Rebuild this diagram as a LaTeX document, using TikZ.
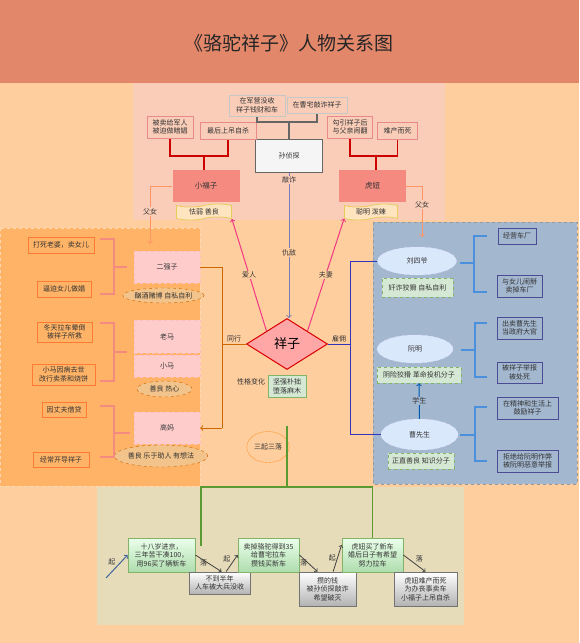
\documentclass[tikz,border=0pt]{standalone}
\usepackage{fontspec}
\setmainfont{Noto Sans CJK SC}
\usetikzlibrary{shapes.geometric,shapes.symbols}

\definecolor{fondo}{HTML}{FFCE9E}
\definecolor{banda}{HTML}{E2876A}
\definecolor{panelsup}{HTML}{FACDB9}
\definecolor{panelizq}{HTML}{FFB366}
\definecolor{panelder}{HTML}{A3B7CF}
\definecolor{panelinf}{HTML}{E6DCBA}
\definecolor{texto}{HTML}{333333}
\definecolor{rojizo}{HTML}{E88A8A}
\definecolor{salmon}{HTML}{F48A80}
\definecolor{naranja}{HTML}{CC6600}
\definecolor{azul}{HTML}{3333BB}
\definecolor{celeste}{HTML}{4A90DD}
\definecolor{verde}{HTML}{5A9A30}
\definecolor{tostado}{HTML}{F2C38A}
\definecolor{azulclaro}{HTML}{DAE8FC}
\definecolor{verdeclaro}{HTML}{D5E8D4}
\definecolor{verdeborde}{HTML}{82B366}
\definecolor{crema}{HTML}{FFE4C0}

\tikzstyle{caja} = [rectangle, draw=rojizo, fill=panelsup, text=texto, line width=1pt, font=\fontsize{7}{8.5}\selectfont, align=center, inner sep=1pt]
\tikzstyle{cajagris} = [caja, draw=black!22, fill=panelsup]
\tikzstyle{persona} = [rectangle, fill=salmon, text=texto, font=\fontsize{7.5}{9}\selectfont, minimum width=67pt, minimum height=32pt]
\tikzstyle{cinta} = [tape, draw=yellow!50!brown!80, fill=crema, text=texto, line width=0.8pt, tape bend height=3pt, font=\fontsize{7}{8.5}\selectfont, inner sep=0pt]
\tikzstyle{cajaizq} = [caja, draw=orange!70!red!80, fill=panelizq]
\tikzstyle{nombreizq} = [rectangle, draw=red!25, dashed, fill=red!20, text=texto, font=\fontsize{7}{8.5}\selectfont, minimum width=66pt]
\tikzstyle{rasgo} = [ellipse, draw=orange!80!black, dashed, fill=tostado, text=texto, font=\fontsize{7}{8.5}\selectfont, inner sep=0pt]
\tikzstyle{nombreder} = [ellipse, draw=white!70!blue!40, dashed, fill=azulclaro, text=texto, font=\fontsize{7}{8.5}\selectfont, inner sep=0pt]
\tikzstyle{rasgoverde} = [rectangle, draw=verdeborde, dashed, fill=verdeclaro, text=texto, font=\fontsize{7}{8.5}\selectfont, inner sep=0pt]
\tikzstyle{cajader} = [caja, draw=blue!40!black!70, fill=panelder]
\tikzstyle{etapa} = [rectangle, draw=verdeborde, top color=green!8!white, bottom color=green!40!gray!45!white, text=texto, line width=0.8pt, font=\fontsize{7}{8.5}\selectfont, align=center, inner sep=0pt]
\tikzstyle{caida} = [etapa, draw=black!55, top color=white, bottom color=black!30]
\tikzstyle{etiqueta} = [text=texto, font=\fontsize{7}{8.5}\selectfont, inner sep=1pt]

\begin{document}
\begin{tikzpicture}[x=1pt,y=-1pt]
		\useasboundingbox (0,0) rectangle (579,643);
		% Fondos
		\fill[fondo] (0,0) rectangle (579,643);
		\fill[banda] (0,0) rectangle (579,83);
		\fill[panelsup] (133,83) rectangle (445,220);
		\filldraw[fill=panelizq, draw=orange!30, dashed] (0,228) rectangle (200,486);
		\filldraw[fill=panelder, draw=black!40, dashed] (373,222) rectangle (577,484);
		\fill[panelinf] (97,487) rectangle (464,625);
		\node[font=\fontsize{19}{19}\selectfont, text=black!85] (titulo) at (289,43) {《骆驼祥子》人物关系图};
		% Arriba
		\node[cajagris, minimum width=56pt, minimum height=21pt] (junying) at (257,105.5) {在军营没收\\祥子钱财和车};
		\node[cajagris, minimum width=60pt, minimum height=16pt] (caozhai) at (317,105) {在曹宅敲诈祥子};
		\node[caja, draw=black!60, fill=black!4, minimum width=67pt, minimum height=33pt] (sun) at (289,155.5) {孙侦探};
		\node[caja, minimum width=46pt, minimum height=22pt] (maijun) at (170,127) {被卖给军人\\被迫做暗娼};
		\node[caja, minimum width=56pt, minimum height=17pt] (diaosi) at (228,130.5) {最后上吊自杀};
		\node[caja, minimum width=45pt, minimum height=22pt] (gouyin) at (350,127) {勾引祥子后\\与父亲闹翻};
		\node[caja, minimum width=40pt, minimum height=17pt] (nanchan) at (397.5,130.5) {难产而死};
		\node[persona] (xiaofu) at (206,186) {小福子};
		\node[persona] (huniu) at (372.5,186) {虎妞};
		\node[cinta, minimum width=55pt, minimum height=16pt] (fucinta) at (204,212) {怯弱 善良};
		\node[cinta, minimum width=53pt, minimum height=16pt] (hucinta) at (371,212) {聪明 泼辣};
		\coordinate (sunjunta) at (289,122);
		\coordinate (fujunta) at (204,156);
		\coordinate (hujunta) at (376,156);
		\draw[black!60, line width=1.5pt] (junying.south) |- (sunjunta) -| (caozhai.south);
		\draw[black!60, line width=1.5pt] (sunjunta) -- (sunjunta |- sun.north);
		\draw[red!80!black, line width=1.5pt] (maijun.south) |- (fujunta) -| (diaosi.south);
		\draw[red!80!black, line width=1.5pt] (fujunta) -- (fujunta |- xiaofu.north);
		\draw[red!80!black, line width=1.5pt] (gouyin.south) |- (hujunta) -| (nanchan.south);
		\draw[red!80!black, line width=1.5pt] (hujunta) -- (hujunta |- huniu.north);
		% Centro
		\node[diamond, draw=red!85!black, fill=red!35!white, line width=1pt, aspect=1.6, inner sep=0pt, minimum width=81pt, minimum height=51pt, font=\fontsize{13}{13}\selectfont] (xiangzi) at (287,344) {祥子};
		\draw[->, line width=1pt, blue!30!gray!80!white] (sun.south) -- (sun.south |- xiangzi.north)
			node[etiqueta, pos=0.05, fill=panelsup] {敲诈}
			node[etiqueta, pos=0.55, fill=fondo] {仇敌};
		\draw[->, line width=1pt, magenta!70!red!80] (xiangzi.north west) -- (fucinta.south east)
			node[etiqueta, midway, fill=fondo] {爱人};
		\draw[->, line width=1pt, magenta!70!red!80] (xiangzi.north east) -- (hucinta.south west)
			node[etiqueta, midway, fill=fondo] {夫妻};
		\node[etiqueta] (xingge) at (251,382) {性格变化};
		\node[rasgoverde, solid, line width=0.8pt, align=center, minimum width=38pt, minimum height=22pt] (xingbox) at (287,386.5) {坚强朴拙\\堕落麻木};
		\node[ellipse, draw=orange!80, etiqueta, minimum width=39pt, minimum height=31pt] (sanqi) at (268,447) {三起三落};
		% Izquierda
		\node[cajaizq, minimum width=66pt, minimum height=16pt] (dasi) at (61,245) {打死老婆，卖女儿};
		\node[cajaizq, minimum width=54pt, minimum height=16pt] (bipo) at (64,289) {逼迫女儿做娼};
		\node[nombreizq, minimum height=32pt] (erqiang) at (167,267) {二强子};
		\node[rasgo, minimum width=67pt, minimum height=15pt] (erqrasgo) at (163.5,295.5) {酗酒赌博 自私自利};
		\node[cajaizq, minimum width=55pt, minimum height=20pt] (dongtian) at (64.5,332) {冬天拉车晕倒\\被祥子所救};
		\node[cajaizq, minimum width=63pt, minimum height=21pt] (xiaomasi) at (63.5,374.5) {小马因病去世\\改行卖茶和烧饼};
		\node[nombreizq, minimum height=33pt] (laoma) at (167,336.5) {老马};
		\node[nombreizq, minimum height=22pt] (xiaoma) at (167,366) {小马};
		\node[rasgo, minimum width=55pt, minimum height=16pt] (marasgo) at (164.5,389) {善良 热心};
		\node[cajaizq, minimum width=44pt, minimum height=15pt] (jiedai) at (64,409.5) {因丈夫借贷};
		\node[cajaizq, minimum width=56pt, minimum height=15pt] (kaidao) at (61,459.5) {经常开导祥子};
		\node[nombreizq, minimum height=32pt] (gaoma) at (167,428) {高妈};
		\node[rasgo, minimum width=72pt, minimum height=22pt] (gaorasgo) at (161,456) {善良 乐于助人 有想法};
		\draw[salmon, line width=1.5pt] (100,239) -- (114,239) -- (114,294) -- (100,294) (114,267) -- (127,267);
		\draw[salmon, line width=1.5pt] (100,323) -- (114,323) -- (114,381) -- (100,381) (114,352) -- (127,352);
		\draw[salmon, line width=1.5pt] (100,406) -- (114,406) -- (114,457) -- (100,457) (114,433) -- (130,433);
		% Derecha
		\node[nombreder, minimum width=79pt, minimum height=28pt] (liu) at (417,261) {刘四爷};
		\node[rasgoverde, minimum width=71pt, minimum height=19pt] (liurasgo) at (417.5,287.5) {奸诈狡猾 自私自利};
		\node[cajader, minimum width=38pt, minimum height=16pt] (jingying) at (517,236) {经营车厂};
		\node[cajader, minimum width=45pt, minimum height=22pt] (naobai) at (519.5,286) {与女儿闹掰\\卖掉车厂};
		\node[nombreder, minimum width=76pt, minimum height=28pt] (ruan) at (415,349) {阮明};
		\node[rasgoverde, minimum width=84pt, minimum height=16pt] (ruanrasgo) at (419,375) {阴险狡猾 革命投机分子};
		\node[cajader, minimum width=45pt, minimum height=22pt] (chumai) at (519.5,328) {出卖曹先生\\当政府大官};
		\node[cajader, minimum width=45pt, minimum height=21pt] (jubao) at (519.5,372.5) {被祥子举报\\被处死};
		\node[nombreder, minimum width=77pt, minimum height=31pt] (cao) at (419.5,434.5) {曹先生};
		\node[rasgoverde, minimum width=66pt, minimum height=16pt] (caorasgo) at (421,461) {正直善良 知识分子};
		\node[cajader, minimum width=61pt, minimum height=22pt] (guli) at (527.5,408) {在精神和生活上\\鼓励祥子};
		\node[cajader, minimum width=61pt, minimum height=22pt] (jujue) at (527.5,461) {拒绝给阮明作弊\\被阮明恶意举报};
		\draw[celeste, line width=1.5pt] (487,236) -- (474,236) -- (474,292) -- (487,292) (474,263) -- (460,263);
		\draw[celeste, line width=1.5pt] (487,323) -- (475,323) -- (475,377) -- (487,377) (475,350) -- (461,350);
		\draw[celeste, line width=1.5pt] (487,407) -- (475,407) -- (475,461) -- (487,461) (475,435) -- (460,435);
		\draw[->, line width=1pt, blue!50!cyan!70!black] (cao.north) -- (ruanrasgo.south)
			node[etiqueta, midway, fill=panelder] {学生};
		% Padre e hija
		\coordinate (erqarriba) at (150,244);
		\coordinate (liuarriba) at (422,237);
		\draw[->, line width=1pt, orange!60!red!60] (xiaofu.west) -| (erqarriba)
			node[etiqueta, pos=0.72, fill=panelsup] {父女};
		\draw[->, line width=1pt, orange!60!red!60] (huniu.east) -| (liuarriba)
			node[etiqueta, pos=0.68, fill=panelsup] {父女};
		% Corchetes del centro
		\coordinate (izqx) at (222,0);
		\coordinate (derx) at (350,0);
		\draw[naranja, line width=1pt] (erqiang.east) -| (izqx |- gaoma.east);
		\draw[naranja, line width=1pt, ->] (izqx |- gaoma.east) -- (gaoma.east);
		\draw[naranja, line width=1pt] (xiangzi.west) -- (xiangzi.west -| izqx)
			node[etiqueta, midway, above] {同行};
		\draw[azul, line width=1pt] (liu.west) -| (derx |- cao.west) -- (cao.west);
		\draw[azul, line width=1pt] (xiangzi.east) -- (xiangzi.east -| derx)
			node[etiqueta, midway, above] {雇佣};
		% Abajo
		\node[etapa, minimum width=67pt, minimum height=34pt] (b1) at (161.5,555) {十八岁进京，\\三年苦干凑100，\\用96买了辆新车};
		\node[caida, minimum width=61pt, minimum height=22pt] (b2) at (219.5,583) {不到半年\\人车被大兵没收};
		\node[etapa, minimum width=61pt, minimum height=34pt] (b3) at (268.5,555) {卖掉骆驼得到35\\给曹宅拉车\\攒钱买新车};
		\node[caida, minimum width=57pt, minimum height=34pt] (b4) at (327.5,589) {攒的钱\\被孙侦探敲诈\\希望破灭};
		\node[etapa, minimum width=61pt, minimum height=34pt] (b5) at (372.5,555) {虎妞买了新车\\婚后日子有希望\\努力拉车};
		\node[caida, minimum width=63pt, minimum height=34pt] (b6) at (425.5,589) {虎妞难产而死\\为办丧事卖车\\小福子上吊自杀};
		\coordinate (verdeini) at (287,426);
		\coordinate (verdebarra) at (287,487);
		\coordinate (verdefin) at (201,546);
		\draw[verde, line width=1.5pt] (verdeini) -- (verdebarra);
		\draw[verde, line width=1.5pt] (verdefin) |- (verdebarra) -| (b5.north);
		\coordinate (inicio) at (106,578);
		\draw[->, line width=1pt, cyan!50!blue!70!black] (inicio) -- (b1.west)
			node[etiqueta, midway, above left] {起};
		\draw[->, line width=0.8pt, black!75] (b1.east) -- (b2.80) node[etiqueta, midway, left] {落};
		\draw[->, line width=0.8pt, black!75] (b2.60) -- (b3.west) node[etiqueta, midway, above left] {起};
		\draw[->, line width=0.8pt, black!75] (b3.east) -- (b4.120) node[etiqueta, midway, left] {落};
		\draw[->, line width=0.8pt, black!75] (b4.72) -- (b5.162) node[etiqueta, midway, left] {起};
		\draw[->, line width=0.8pt, black!75] (b5.east) -- (b6.north) node[etiqueta, midway, above right] {落};
	\end{tikzpicture}
\end{document}
